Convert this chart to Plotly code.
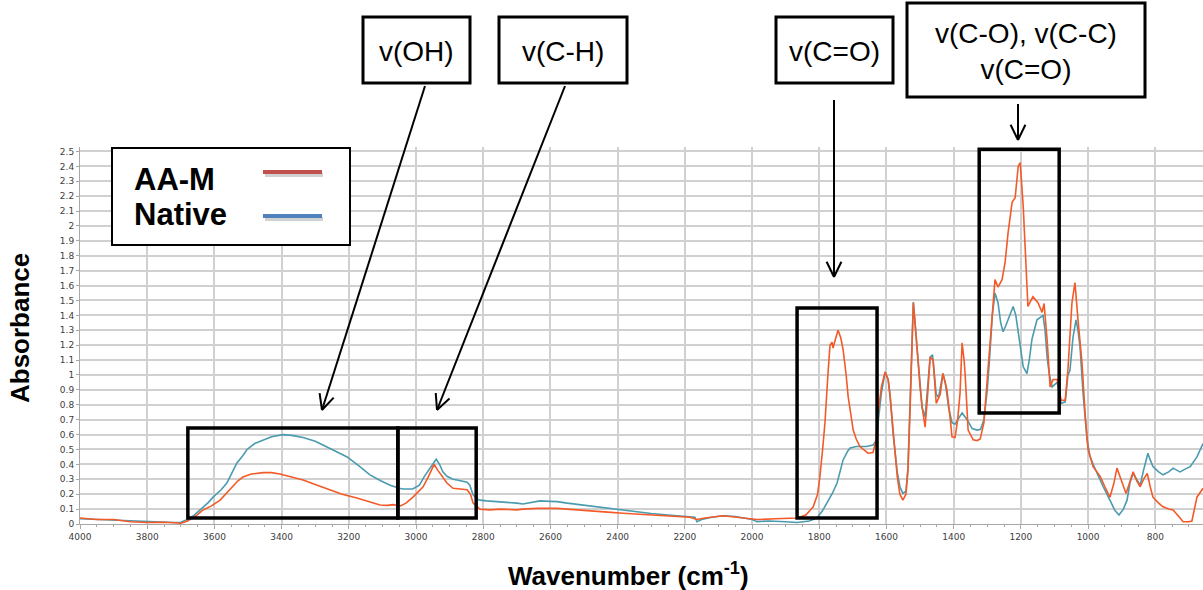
import plotly.graph_objects as go
import math

# ---------------- data ----------------
native_wn = [4000, 3950, 3900, 3850, 3800, 3750, 3720, 3700, 3680, 3660, 3640, 3620, 3604, 3580, 3563, 3545, 3533,
             3515, 3503, 3480, 3455, 3430, 3396, 3370, 3336, 3300, 3277, 3240, 3205, 3170, 3137, 3105, 3077, 3050,
             3039, 3010, 2990, 2975, 2960, 2950, 2940, 2930, 2920, 2908, 2890, 2878, 2860, 2848, 2840, 2830, 2820,
             2810, 2790, 2750, 2700, 2682, 2650, 2631, 2600, 2580, 2550, 2500, 2450, 2400, 2350, 2300, 2250, 2200,
             2170, 2164, 2150, 2120, 2086, 2050, 2000, 1985, 1950, 1900, 1866, 1830, 1807, 1790, 1777, 1760, 1747,
             1735, 1729, 1715, 1708, 1690, 1679, 1660, 1640, 1630, 1625, 1615, 1604, 1595, 1589, 1580, 1568, 1560,
             1551, 1542, 1536, 1530, 1524, 1520, 1515, 1510, 1500, 1494, 1485, 1478, 1470, 1463, 1455, 1452, 1445,
             1440, 1432, 1425, 1415, 1405, 1396, 1385, 1375, 1360, 1345, 1330, 1320, 1310, 1300, 1292, 1285, 1277,
             1268, 1260, 1253, 1245, 1238, 1223, 1215, 1208, 1200, 1193, 1182, 1175, 1167, 1152, 1140, 1134, 1128,
             1122, 1115, 1107, 1092, 1080, 1068, 1060, 1054, 1045, 1036, 1030, 1024, 1015, 1003, 995, 985, 970, 955,
             935, 920, 908, 895, 884, 875, 866, 855, 845, 835, 822, 815, 807, 790, 777, 760, 747, 735, 726, 710, 696,
             676, 658]
native_abs = [0.035, 0.03, 0.03, 0.02, 0.015, 0.012, 0.01, 0.012, 0.03, 0.06, 0.10, 0.14, 0.18, 0.23, 0.275, 0.35, 0.41,
              0.46, 0.50, 0.54, 0.565, 0.585, 0.60, 0.595, 0.58, 0.555, 0.53, 0.49, 0.45, 0.39, 0.33, 0.29, 0.26, 0.24,
              0.235, 0.235, 0.26, 0.32, 0.37, 0.41, 0.435, 0.40, 0.35, 0.32, 0.30, 0.295, 0.285, 0.28, 0.26, 0.195, 0.17,
              0.16, 0.155, 0.15, 0.14, 0.134, 0.145, 0.155, 0.152, 0.15, 0.14, 0.125, 0.11, 0.095, 0.085, 0.07, 0.06, 0.052,
              0.045, 0.015, 0.03, 0.045, 0.055, 0.05, 0.03, 0.016, 0.02, 0.015, 0.01, 0.02, 0.04, 0.09, 0.14, 0.21, 0.275,
              0.37, 0.43, 0.49, 0.51, 0.52, 0.52, 0.52, 0.53, 0.56, 0.68, 0.88, 1.02, 0.97, 0.855, 0.6, 0.35, 0.25,
              0.205, 0.22, 0.38, 0.8, 1.3, 1.49, 1.35, 1.2, 0.9, 0.78, 0.72, 0.9, 1.12, 1.135, 0.95, 0.87, 0.85,
              0.92, 1.01, 0.95, 0.78, 0.68, 0.67, 0.71, 0.745, 0.70, 0.64, 0.63, 0.635, 0.70, 0.90, 1.15, 1.40, 1.55,
              1.485, 1.35, 1.29, 1.33, 1.37, 1.46, 1.40, 1.28, 1.16, 1.055, 1.01, 1.10, 1.24, 1.37, 1.39, 1.40, 1.30,
              1.12, 1.0, 0.92, 0.95, 0.81, 0.82, 1.0, 1.03, 1.25, 1.37, 1.30, 1.19, 0.88, 0.565, 0.46, 0.40, 0.32, 0.25,
              0.16, 0.09, 0.06, 0.10, 0.16, 0.28, 0.34, 0.30, 0.26, 0.36, 0.475, 0.43, 0.385, 0.35, 0.33, 0.35, 0.375, 0.36, 0.35, 0.37, 0.385,
              0.45, 0.54]

aam_wn = [4000, 3950, 3900, 3850, 3800, 3750, 3720, 3700, 3680, 3652, 3634, 3610, 3583, 3554, 3530, 3515, 3490, 3455,
          3430, 3405, 3370, 3336, 3300, 3256, 3220, 3176, 3140, 3107, 3085, 3068, 3048, 3030, 3009, 2995, 2979, 2965,
          2955, 2946, 2935, 2920, 2908, 2890, 2870, 2848, 2838, 2830, 2810, 2780, 2750, 2700, 2682, 2640, 2580, 2530,
          2482, 2430, 2384, 2330, 2283, 2230, 2185, 2164, 2140, 2086, 2040, 1985, 1930, 1887, 1866, 1840, 1818, 1805,
          1798, 1790, 1783, 1774, 1768, 1762, 1759, 1752, 1744, 1736, 1729, 1720, 1714, 1699, 1690, 1679, 1665, 1655,
          1640, 1632, 1625, 1615, 1604, 1595, 1589, 1580, 1568, 1560, 1551, 1542, 1536, 1530, 1524, 1520, 1515, 1512,
          1500, 1494, 1485, 1478, 1470, 1461, 1452, 1446, 1440, 1432, 1425, 1420, 1410, 1405, 1396, 1388, 1381, 1375,
          1369, 1366, 1357, 1342, 1330, 1321, 1310, 1307, 1300, 1292, 1285, 1277, 1268, 1256, 1247, 1238, 1226, 1217,
          1208, 1202, 1193, 1182, 1179, 1170, 1164, 1149, 1137, 1131, 1122, 1113, 1104, 1092, 1080, 1068, 1060, 1048,
          1039, 1030, 1018, 1009, 1000, 985, 964, 950, 935, 923, 914, 899, 887, 876, 866, 855, 845, 835, 824, 815,
          807, 790, 777, 760, 747, 730, 717, 700, 691, 676, 658]
aam_abs = [0.04, 0.03, 0.03, 0.015, 0.01, 0.012, 0.008, 0.005, 0.02, 0.06, 0.094, 0.12, 0.16, 0.23, 0.29, 0.315, 0.335, 0.345,
           0.345, 0.335, 0.315, 0.295, 0.265, 0.23, 0.20, 0.175, 0.15, 0.128, 0.125, 0.13, 0.12, 0.14, 0.18, 0.21, 0.25, 0.31,
           0.36, 0.40, 0.36, 0.31, 0.275, 0.24, 0.235, 0.23, 0.20, 0.14, 0.10, 0.095, 0.10, 0.095, 0.10, 0.105, 0.105, 0.098,
           0.088, 0.08, 0.072, 0.065, 0.055, 0.05, 0.045, 0.03, 0.04, 0.055, 0.045, 0.03, 0.035, 0.035, 0.04, 0.06, 0.115, 0.2,
           0.32, 0.5, 0.68, 1.01, 1.20, 1.22, 1.18, 1.24, 1.30, 1.25, 1.17, 1.0, 0.855, 0.63, 0.57, 0.52, 0.49, 0.475,
           0.48, 0.55, 0.745, 0.92, 1.02, 0.97, 0.855, 0.6, 0.32, 0.2, 0.16, 0.2, 0.36, 0.75, 1.25, 1.485, 1.35, 1.26,
           0.92, 0.79, 0.65, 0.85, 1.12, 1.10, 0.81, 0.84, 0.87, 1.01, 0.95, 0.90, 0.70, 0.585, 0.58, 0.70, 0.88, 1.215,
           1.10, 1.01, 0.63, 0.565, 0.56, 0.57, 0.68, 0.77, 1.0, 1.24, 1.45, 1.64, 1.59, 1.64, 1.755, 1.955, 2.16, 2.19,
           2.40, 2.425, 2.13, 1.62, 1.46, 1.50, 1.525, 1.485, 1.42, 1.48, 1.24, 0.92, 0.97, 0.97, 0.83, 0.83, 1.035, 1.485,
           1.62, 1.37, 1.08, 0.745, 0.50, 0.385, 0.32, 0.25, 0.18, 0.275, 0.375, 0.28, 0.205, 0.28, 0.35, 0.29, 0.25, 0.30, 0.34, 0.25,
           0.18, 0.14, 0.115, 0.10, 0.094, 0.05, 0.015, 0.015, 0.02, 0.18, 0.24]

x_tick_values = [4000, 3800, 3600, 3400, 3200, 3000, 2800, 2600, 2400, 2200, 2000, 1800, 1600, 1400, 1200, 1000, 800]
x_tick_labels = ["4000", "3800", "3600", "3400", "3200", "3000", "2800", "2600", "2400", "2200", "2000", "1800",
                 "1600", "1400", "1200", "1000", "800"]
y_tick_values = [0, 0.1, 0.2, 0.3, 0.4, 0.5, 0.6, 0.7, 0.8, 0.9, 1, 1.1, 1.2, 1.3, 1.4, 1.5, 1.6, 1.7, 1.8, 1.9,
                 2, 2.1, 2.2, 2.3, 2.4, 2.5]
y_tick_labels = ["0", "0.1", "0.2", "0.3", "0.4", "0.5", "0.6", "0.7", "0.8", "0.9", "1", "1.1", "1.2", "1.3", "1.4",
                 "1.5", "1.6", "1.7", "1.8", "1.9", "2", "2.1", "2.2", "2.3", "2.4", "2.5"]

# highlighted regions (wavenumber from, to, absorbance low, high)
regions = [(3679, 3054, 0.04, 0.645), (3054, 2821, 0.04, 0.645), (1866, 1628, 0.04, 1.45), (1324, 1086, 0.745, 2.515)]

series_names = ["AA-M", "Native"]

# ---------------- layout helpers ----------------
W, H = 1203, 590
L, R, T, B = 80, 1203, 147, 524


def px(x):
    return (x - L) / (R - L)


def py(y):
    return (B - y) / (B - T)


fig = go.Figure()
fig.add_trace(go.Scatter(x=native_wn, y=native_abs, mode="lines", name=series_names[1],
                         line=dict(color="#4A9BAF", width=1.6), showlegend=False))
fig.add_trace(go.Scatter(x=aam_wn, y=aam_abs, mode="lines", name=series_names[0],
                         line=dict(color="#F45A28", width=1.6), showlegend=False))

shapes = []
for x0, x1, y0, y1 in regions:
    shapes.append(dict(type="rect", xref="x", yref="y", x0=x0, x1=x1, y0=y0, y1=y1,
                       line=dict(color="black", width=3.5), fillcolor="rgba(0,0,0,0)", layer="above"))

# label boxes (pixel coordinates)
label_boxes = [
    (363, 17, 470, 83, "v(OH)"),
    (499, 17, 627, 83, "v(C-H)"),
    (776, 17, 893, 83, "v(C=O)"),
    (907, 3, 1145, 97, "v(C-O), v(C-C)<br>v(C=O)"),
]
annotations = []
for x0, y0, x1, y1, txt in label_boxes:
    shapes.append(dict(type="rect", xref="paper", yref="paper", x0=px(x0), x1=px(x1), y0=py(y0), y1=py(y1),
                       line=dict(color="black", width=3), fillcolor="white", layer="above"))
    annotations.append(dict(xref="paper", yref="paper", x=px((x0 + x1) / 2), y=py((y0 + y1) / 2 + 1),
                            text=txt, showarrow=False, xanchor="center", yanchor="middle",
                            font=dict(family="Liberation Sans, Arial", size=28, color="black")))

# arrows
arrows = [((425, 86), (322, 410)), ((565, 86), (437, 410)), ((834, 100), (834, 277)), ((1018, 104), (1018, 140))]
for (sx, sy), (ex, ey) in arrows:
    shapes.append(dict(type="line", xref="paper", yref="paper", x0=px(sx), y0=py(sy), x1=px(ex), y1=py(ey),
                       line=dict(color="black", width=2), layer="above"))
    ang = math.atan2(sy - ey, sx - ex)
    for d in (0.45, -0.45):
        hx = ex + 17 * math.cos(ang + d)
        hy = ey + 17 * math.sin(ang + d)
        shapes.append(dict(type="line", xref="paper", yref="paper", x0=px(ex), y0=py(ey), x1=px(hx), y1=py(hy),
                           line=dict(color="black", width=2), layer="above"))

# custom legend
shapes.append(dict(type="rect", xref="paper", yref="paper", x0=px(112), x1=px(350), y0=py(148), y1=py(245),
                   line=dict(color="black", width=2), fillcolor="white", layer="above"))
for yy, col in ((172, "#C0504D"), (216, "#4F81BD")):
    shapes.append(dict(type="line", xref="paper", yref="paper", x0=px(265), x1=px(323), y0=py(yy + 3), y1=py(yy + 3),
                       line=dict(color="rgba(0,0,0,0.18)", width=4), layer="above"))
    shapes.append(dict(type="line", xref="paper", yref="paper", x0=px(263), x1=px(322), y0=py(yy), y1=py(yy),
                       line=dict(color=col, width=4), layer="above"))
for yy, txt in ((179, series_names[0]), (214, series_names[1])):
    annotations.append(dict(xref="paper", yref="paper", x=px(132), y=py(yy), text=txt, showarrow=False,
                            xanchor="left", yanchor="middle",
                            font=dict(family="Liberation Sans, Arial", size=31, color="black", weight="bold")))

# axis titles
annotations.append(dict(xref="paper", yref="paper", x=px(20), y=py(328), text="Absorbance", textangle=-90,
                        showarrow=False, xanchor="center", yanchor="middle",
                        font=dict(family="Liberation Sans, Arial", size=26, color="black", weight="bold")))
annotations.append(dict(xref="paper", yref="paper", x=px(628), y=py(574), text="Wavenumber (cm<sup>-1</sup>)",
                        showarrow=False, xanchor="center", yanchor="middle",
                        font=dict(family="Liberation Sans, Arial", size=26, color="black", weight="bold")))

fig.update_layout(
    width=W, height=H,
    margin=dict(l=L, r=W - R, t=T, b=H - B),
    paper_bgcolor="white", plot_bgcolor="white",
    shapes=shapes, annotations=annotations, showlegend=False,
    xaxis=dict(range=[4000, 658], tickvals=x_tick_values, ticktext=x_tick_labels,
               showgrid=True, gridcolor="#d0d0d0", gridwidth=1.5, zeroline=False,
               showline=True, linecolor="#a8a8a8", linewidth=1,
               ticks="outside", ticklen=4, tickcolor="#a8a8a8",
               minor=dict(dtick=50, tick0=0, ticks="outside", ticklen=2, tickcolor="#a8a8a8", showgrid=False),
               tickfont=dict(family="DejaVu Sans", size=9, color="#404040")),
    yaxis=dict(range=[0, 2.53], tickvals=y_tick_values, ticktext=y_tick_labels,
               showgrid=True, gridcolor="#d0d0d0", gridwidth=1.5, zeroline=False,
               showline=True, linecolor="#a8a8a8", linewidth=1,
               ticks="outside", ticklen=3, tickcolor="#a8a8a8",
               tickfont=dict(family="DejaVu Sans", size=9, color="#404040")),
)

fig.write_html("out.html")
